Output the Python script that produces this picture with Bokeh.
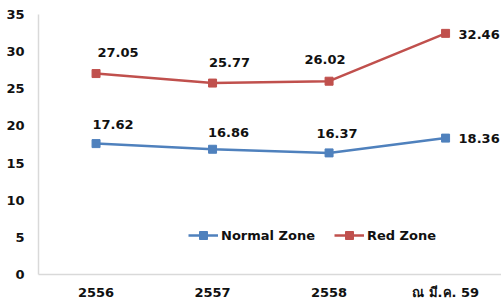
from bokeh.plotting import figure
from bokeh.models import Range1d, FixedTicker, Legend, LegendItem, ColumnDataSource
from bokeh.core.properties import value
from bokeh.embed import file_html
from bokeh.resources import INLINE

categories = ["2556", "2557", "2558", "ณ มี.ค. 59"]
normal_zone = [17.62, 16.86, 16.37, 18.36]
red_zone = [27.05, 25.77, 26.02, 32.46]
y_ticks = [0, 5, 10, 15, 20, 25, 30, 35]

xs = list(range(len(categories)))
FONT = "DejaVu Sans"
BLUE = "#4F81BD"
RED = "#C0504D"
AXIS = "#d9d9d9"

p = figure(width=501, height=302, output_backend="svg", toolbar_location=None,
           x_range=Range1d(-0.494, 3.48), y_range=Range1d(0, 35),
           min_border_left=38, min_border_right=0, min_border_top=14, min_border_bottom=26)
p.outline_line_color = None
p.xgrid.visible = False
p.ygrid.visible = False

for ax in (p.xaxis[0], p.yaxis[0]):
    ax.axis_line_color = AXIS
    ax.axis_line_width = 1.5
    ax.major_tick_line_color = None
    ax.minor_tick_line_color = None
    ax.major_tick_out = 0
    ax.major_tick_in = 0
    ax.major_label_text_font = FONT
    ax.major_label_text_font_style = "bold"
    ax.major_label_text_font_size = "13px"
    ax.major_label_text_color = "#111111"

p.yaxis.ticker = FixedTicker(ticks=y_ticks)
p.yaxis.major_label_standoff = 14
p.xaxis.ticker = FixedTicker(ticks=xs)
p.xaxis.major_label_overrides = {i: c for i, c in zip(xs, categories)}
p.xaxis.major_label_standoff = 10

src = ColumnDataSource(dict(x=xs, normal=normal_zone, red=red_zone,
                            normal_lbl=[f"{v:.2f}" for v in normal_zone],
                            red_lbl=[f"{v:.2f}" for v in red_zone]))

bl = p.line("x", "normal", source=src, color=BLUE, line_width=2.5)
bs = p.scatter("x", "normal", source=src, marker="square", size=8, color=BLUE)
rl = p.line("x", "red", source=src, color=RED, line_width=2.5)
rs = p.scatter("x", "red", source=src, marker="square", size=8, color=RED)

# label offsets (screen px) - style only
red_dx = [22, 17, -4, 13]
red_dy = [-21, -21, -22, 1]
normal_dx = [17, 16, 8, 13]
normal_dy = [-19, -17, -19, 0]
aligns = ["center", "center", "center", "left"]

for col, lbl, dx, dy in (("red", "red_lbl", red_dx, red_dy), ("normal", "normal_lbl", normal_dx, normal_dy)):
    s = ColumnDataSource(dict(x=xs, y=src.data[col], t=src.data[lbl], dx=dx, dy=dy, a=aligns))
    p.text("x", "y", text="t", source=s, x_offset="dx", y_offset="dy",
           text_align="a", text_baseline="middle",
           text_font=value(FONT), text_font_style="bold", text_font_size="13px",
           text_color="#111111")

legend = Legend(items=[LegendItem(label="Normal Zone", renderers=[bl, bs]),
                       LegendItem(label="Red Zone", renderers=[rl, rs])],
                orientation="horizontal", location=(150, 29),
                glyph_width=30, glyph_height=20, label_height=20, label_standoff=3,
                spacing=19, padding=0, margin=0,
                border_line_color=None, background_fill_alpha=0,
                label_text_font=FONT, label_text_font_style="bold",
                label_text_font_size="13px", label_text_color="#111111")
p.add_layout(legend)

open("out.html", "w").write(file_html(p, INLINE))
